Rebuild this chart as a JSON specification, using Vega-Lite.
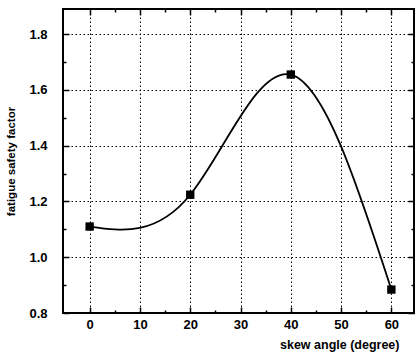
{
  "$schema": "https://vega.github.io/schema/vega-lite/v6.json",
  "width": 351,
  "height": 304,
  "autosize": {"type": "none"},
  "padding": {"left": 63, "top": 9, "right": 3, "bottom": 45},
  "background": "white",
  "data": {"values": [
    {"angle": 0, "factor": 1.11},
    {"angle": 20, "factor": 1.224},
    {"angle": 40, "factor": 1.655},
    {"angle": 60, "factor": 0.884}
  ]},
  "config": {
    "view": {"stroke": "black", "strokeWidth": 2},
    "axis": {
      "domain": false,
      "tickColor": "black",
      "tickWidth": 1.5,
      "labelFont": "Liberation Sans Narrow, Liberation Sans",
      "labelFontWeight": "bold",
      "labelFontSize": 13,
      "labelColor": "black",
      "titleFont": "Liberation Sans",
      "titleFontWeight": "bold",
      "titleColor": "black",
      "gridColor": "black",
      "gridWidth": 1,
      "gridDash": [1.5, 2.5],
      "labelOverlap": false
    }
  },
  "resolve": {"axis": {"x": "independent", "y": "independent"}},
  "layer": [
    {
      "mark": {"type": "line", "interpolate": "natural", "color": "black", "strokeWidth": 1.8},
      "encoding": {
        "x": {
          "field": "angle", "type": "quantitative",
          "scale": {"domain": [-5.3, 64.5], "nice": false, "zero": false},
          "axis": {
            "orient": "bottom",
            "title": "skew angle (degree)",
            "titleFontSize": 12.5,
            "titleAnchor": "end",
            "titleAlign": "right",
            "titleBaseline": "top",
            "titleX": 336,
            "titleY": 25,
            "values": [0, 5, 10, 15, 20, 25, 30, 35, 40, 45, 50, 55, 60],
            "labelExpr": "datum.value % 10 === 0 ? datum.label : ''",
            "tickSize": {"condition": {"test": "datum.value % 10 === 0", "value": -6}, "value": -3},
            "labelPadding": 11,
            "grid": true,
            "gridOpacity": {"condition": {"test": "datum.value % 10 === 0", "value": 1}, "value": 0}
          }
        },
        "y": {
          "field": "factor", "type": "quantitative",
          "scale": {"domain": [0.8, 1.89], "nice": false, "zero": false},
          "axis": {
            "orient": "left",
            "title": "fatigue safety factor",
            "titleFontSize": 11.5,
            "titlePadding": 12,
            "values": [0.8, 0.9, 1.0, 1.1, 1.2, 1.3, 1.4, 1.5, 1.6, 1.7, 1.8],
            "format": ".1f",
            "labelExpr": "round(datum.value * 10) % 2 === 0 ? datum.label : ''",
            "tickSize": {"condition": {"test": "round(datum.value * 10) % 2 === 0", "value": -6}, "value": -3},
            "labelPadding": 22,
            "grid": true,
            "gridOpacity": {"condition": {"test": "round(datum.value * 10) % 2 === 0", "value": 1}, "value": 0}
          }
        }
      }
    },
    {
      "mark": {"type": "point", "shape": "square", "filled": true, "color": "black", "size": 70, "opacity": 1},
      "encoding": {
        "x": {
          "field": "angle", "type": "quantitative",
          "axis": {
            "orient": "top",
            "title": null,
            "labels": false,
            "grid": false,
            "values": [0, 5, 10, 15, 20, 25, 30, 35, 40, 45, 50, 55, 60],
            "tickSize": {"condition": {"test": "datum.value % 10 === 0", "value": -6}, "value": -3}
          }
        },
        "y": {
          "field": "factor", "type": "quantitative",
          "axis": {
            "orient": "right",
            "title": null,
            "labels": false,
            "grid": false,
            "values": [0.8, 0.9, 1.0, 1.1, 1.2, 1.3, 1.4, 1.5, 1.6, 1.7, 1.8],
            "tickSize": {"condition": {"test": "round(datum.value * 10) % 2 === 0", "value": -6}, "value": -3}
          }
        }
      }
    }
  ]
}
